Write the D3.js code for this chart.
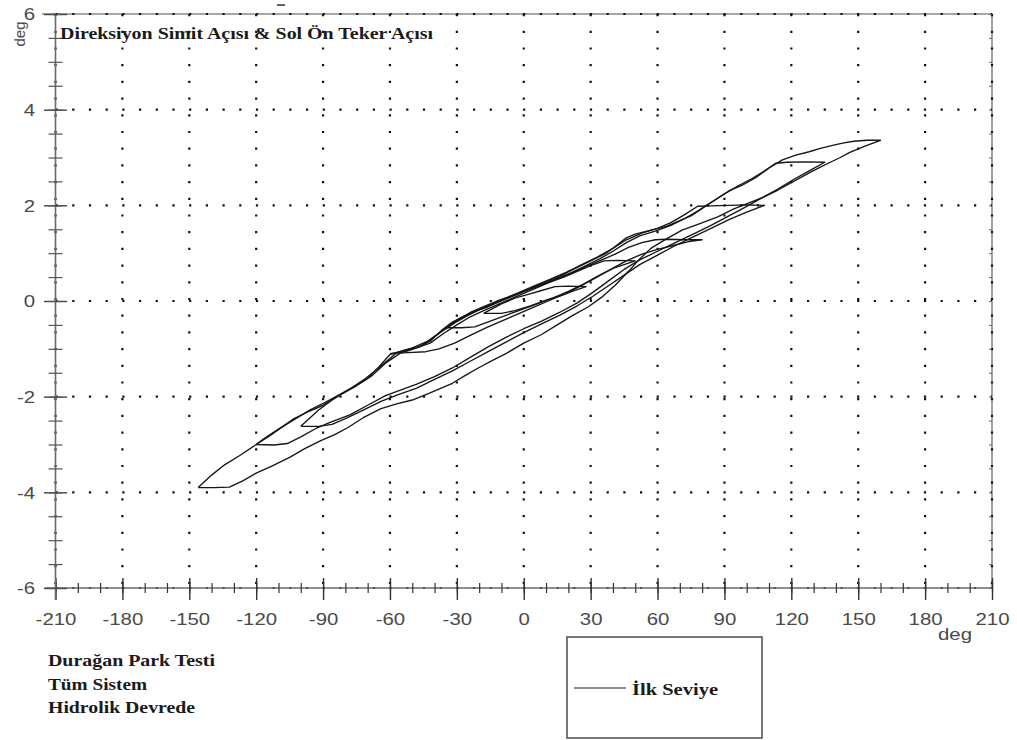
<!DOCTYPE html>
<html>
<head>
<meta charset="utf-8">
<script src="https://cdn.jsdelivr.net/npm/d3@7"></script>
<style>
  body { margin: 0; background: #fff; }
  svg { display: block; }
</style>
</head>
<body>
<svg id="chart" width="1017" height="740"></svg>
<script>
// Axis ticks
const xTicks = [-210, -180, -150, -120, -90, -60, -30, 0, 30, 60, 90, 120, 150, 180, 210];
const yTicks = [-6, -4, -2, 0, 2, 4, 6];
const xMinorTicks = d3.range(-210, 211, 10);
const yMinorTicks = d3.range(-6, 6.01, 0.5);

// Steering wheel angle (deg) vs. left front wheel angle (deg), one array per reversal loop
const loopA = [
  [-146,-3.90],[-139,-3.90],[-132,-3.89],[-126,-3.76],[-120,-3.60],[-113,-3.45],[-105,-3.27],[-98,-3.08],
  [-91,-2.92],[-85,-2.80],[-79,-2.65],[-72,-2.44],[-64,-2.25],[-57,-2.15],[-50,-2.07],[-42,-1.92],
  [-32,-1.72],[-26,-1.55],[-20,-1.39],[-14,-1.24],[-8,-1.10],[0,-0.88],[8,-0.70],[15,-0.50],
  [22,-0.30],[29,-0.12],[35,0.08],[41,0.33],[47,0.62],[52,0.88],[57,1.10],[64,1.30],[71,1.48],
  [79,1.62],[87,1.76],[94,1.92],[101,2.05],[108,2.18],[114,2.32],[121,2.50],[128,2.68],[133,2.80],
  [137,2.89],[142,3.00],[146,3.10],[153,3.24],[160,3.36],
  [154,3.36],[148,3.34],[143,3.30],[139,3.26],[133,3.19],[128,3.12],[122,3.05],[116,2.95],[110,2.78],
  [104,2.58],[98,2.42],[92,2.30],[88,2.18],[82,2.00],[75,1.78],[70,1.68],[64,1.56],[57,1.48],
  [50,1.40],[46,1.32],[41,1.14],[37,1.00],[30,0.84],[24,0.70],[18,0.56],[12,0.44],[6,0.32],[1,0.22],
  [-5,0.10],[-11,-0.02],[-16,-0.12],[-21,-0.20],[-27,-0.32],[-32,-0.44],[-37,-0.62],[-42,-0.84],
  [-47,-0.96],[-53,-1.02],[-60,-1.12],[-65,-1.38],[-70,-1.62],[-76,-1.80],[-83,-1.98],[-90,-2.18],
  [-96,-2.30],[-103,-2.46],[-108,-2.62],[-114,-2.82],[-120,-3.00],[-127,-3.22],[-134,-3.42],
  [-140,-3.64],[-146,-3.90]
];
const loopB = [
  [-120,-3.00],[-112,-3.01],[-106,-2.98],[-100,-2.84],[-93,-2.66],[-86,-2.52],[-78,-2.38],[-70,-2.18],
  [-62,-1.98],[-55,-1.86],[-48,-1.74],[-40,-1.58],[-32,-1.40],[-24,-1.18],[-16,-0.96],[-8,-0.76],
  [0,-0.58],[8,-0.42],[16,-0.24],[24,-0.04],[31,0.18],[38,0.42],[45,0.66],[52,0.86],[60,1.04],
  [68,1.22],[76,1.40],[84,1.58],[92,1.78],[100,1.98],[107,2.16],[114,2.34],[121,2.54],[128,2.72],
  [135,2.90],[126,2.91],[118,2.90],[113,2.88],
  [108,2.72],[102,2.55],[96,2.40],[90,2.24],[84,2.06],[78,1.88],[72,1.72],[66,1.58],[59,1.46],
  [52,1.36],[46,1.22],[40,1.04],[34,0.88],[27,0.72],[20,0.56],[13,0.42],[6,0.28],[0,0.16],[-6,0.04],
  [-12,-0.08],[-18,-0.20],[-24,-0.33],[-30,-0.50],[-36,-0.68],[-42,-0.88],[-48,-0.98],[-55,-1.08],
  [-62,-1.30],[-68,-1.56],[-75,-1.76],[-82,-1.94],[-89,-2.12],[-96,-2.28],[-103,-2.48],[-110,-2.68],
  [-116,-2.86],[-120,-3.00]
];
const loopC = [
  [-100,-2.62],[-92,-2.62],[-86,-2.58],[-80,-2.46],[-72,-2.28],[-64,-2.10],[-56,-1.95],[-48,-1.82],
  [-40,-1.64],[-32,-1.46],[-24,-1.26],[-16,-1.06],[-8,-0.86],[0,-0.66],[8,-0.48],[16,-0.30],
  [24,-0.10],[31,0.10],[38,0.32],[45,0.54],[52,0.76],[60,0.96],[68,1.16],[76,1.34],[84,1.52],
  [92,1.70],[100,1.86],[108,2.00],[100,2.01],[92,2.00],[84,1.99],[78,1.98],
  [72,1.80],[66,1.64],[60,1.52],[53,1.42],[46,1.28],[40,1.10],[33,0.92],[26,0.76],[19,0.60],
  [12,0.46],[5,0.32],[-1,0.20],[-7,0.08],[-13,-0.04],[-19,-0.16],[-25,-0.30],[-31,-0.46],
  [-37,-0.64],[-43,-0.84],[-50,-0.98],[-57,-1.08],[-64,-1.36],[-71,-1.62],[-78,-1.84],[-85,-2.04],
  [-92,-2.28],[-100,-2.62]
];
const loopD = [
  [-60,-1.10],[-52,-1.08],[-44,-1.06],[-38,-1.00],[-31,-0.88],[-24,-0.72],[-17,-0.56],[-10,-0.42],
  [-3,-0.28],[4,-0.14],[11,0.00],[18,0.14],[25,0.30],[32,0.48],[39,0.66],[46,0.84],[53,0.98],
  [60,1.08],[67,1.16],[74,1.24],[80,1.28],[72,1.28],[64,1.29],[59,1.28],
  [53,1.22],[47,1.12],[41,0.98],[35,0.86],[28,0.72],[21,0.58],[14,0.46],[8,0.34],[2,0.24],
  [-4,0.12],[-10,0.02],[-16,-0.10],[-22,-0.22],[-28,-0.36],[-34,-0.54],[-40,-0.74],[-46,-0.94],
  [-52,-1.04],[-60,-1.10]
];
const loopE = [
  [-35,-0.56],[-28,-0.56],[-22,-0.54],[-15,-0.42],[-8,-0.30],[-1,-0.18],[6,-0.06],[13,0.06],
  [20,0.20],[27,0.36],[34,0.54],[41,0.70],[50,0.84],[42,0.85],[36,0.84],
  [30,0.74],[24,0.62],[18,0.50],[12,0.40],[6,0.30],[0,0.20],[-6,0.10],[-12,0.00],[-18,-0.12],
  [-24,-0.24],[-30,-0.40],[-35,-0.56]
];
const loopF = [
  [-18,-0.26],[-10,-0.26],[-4,-0.20],[3,-0.10],[10,0.02],[17,0.12],[23,0.22],[28,0.30],
  [20,0.31],[14,0.30],[8,0.22],[2,0.14],[-4,0.06],[-10,-0.06],[-18,-0.26]
];
const loops = [loopA, loopB, loopC, loopD, loopE, loopF];

const titleText = "Direksiyon Simit Açısı & Sol Ön Teker Açısı";
const noteLines = ["Durağan Park Testi", "Tüm Sistem", "Hidrolik Devrede"];
const seriesName = "İlk Seviye";
const unitLabel = "deg";

const SANS = "'Liberation Sans', Arial, Helvetica, sans-serif";
const SERIF = "'Times New Roman', 'Liberation Serif', Times, 'DejaVu Serif', serif";

const svg = d3.select("#chart");
const plotLeft = 55.5, plotRight = 992, plotTop = 14, plotBottom = 588;
const x = d3.scaleLinear().domain([-210, 210]).range([plotLeft, plotRight]);
const y = d3.scaleLinear().domain([-6, 6]).range([plotBottom, plotTop]);
const fmt = d => String(d);

function sansLabel(sel, size) {
  sel.attr("font-family", SANS).attr("font-size", size).attr("fill", "#4a4a4a");
}
function serifLabel(sel, size) {
  sel.attr("font-family", SERIF).attr("font-size", size).attr("font-weight", "bold").attr("fill", "#1a1a1a");
}

// Frame (top and right)
svg.append("path")
  .attr("d", `M42,${plotTop}H${plotRight}V${plotBottom}`)
  .attr("fill", "none").attr("stroke", "#8a8a8a").attr("stroke-width", 1.6);

// Dotted grid
const grid = svg.append("g").attr("stroke", "#111").attr("stroke-width", 2.2).attr("stroke-dasharray", "2.2,14.5");
grid.selectAll("line.v").data(xTicks).join("line").attr("class", "v")
  .attr("x1", d => x(d)).attr("x2", d => x(d)).attr("y1", y(6)).attr("y2", y(-6));
grid.selectAll("line.h").data(yTicks).join("line").attr("class", "h")
  .attr("y1", d => y(d)).attr("y2", d => y(d)).attr("x1", x(-210)).attr("x2", x(210));

// X axis: labels and downward major ticks
const xAxis = svg.append("g").attr("transform", `translate(0,${plotBottom})`)
  .call(d3.axisBottom(x).tickValues(xTicks).tickSizeInner(12).tickSizeOuter(0).tickFormat(fmt));
xAxis.select(".domain").attr("stroke", "#6a6a6a").attr("stroke-width", 1.6).attr("d", `M45,0H${plotRight}`);
xAxis.selectAll(".tick line").attr("stroke", "#333").attr("stroke-width", 1.4);
xAxis.selectAll(".tick text").call(sansLabel, 17).attr("y", 37).attr("dy", 0)
  .attr("transform", "scale(1.2,1)");
// X axis: upward major ticks
svg.append("g").attr("transform", `translate(0,${plotBottom})`)
  .call(d3.axisBottom(x).tickValues(xTicks).tickSizeInner(-10).tickSizeOuter(0).tickFormat(""))
  .call(g => g.select(".domain").remove())
  .call(g => g.selectAll(".tick line").attr("stroke", "#333").attr("stroke-width", 1.4));
// X axis: minor ticks across the axis
[5, -5].forEach(s => {
  svg.append("g").attr("transform", `translate(0,${plotBottom})`)
    .call(d3.axisBottom(x).tickValues(xMinorTicks).tickSizeInner(s).tickSizeOuter(0).tickFormat(""))
    .call(g => g.select(".domain").remove())
    .call(g => g.selectAll(".tick line").attr("stroke", "#333").attr("stroke-width", 1.2));
});

// Y axis: labels and left major ticks
const yAxis = svg.append("g").attr("transform", `translate(${plotLeft},0)`)
  .call(d3.axisLeft(y).tickValues(yTicks).tickSizeInner(11.5).tickSizeOuter(0).tickFormat(fmt));
yAxis.select(".domain").attr("stroke", "#6a6a6a").attr("stroke-width", 1.6).attr("d", `M0,${plotTop}V${plotBottom + 12}`);
yAxis.selectAll(".tick line").attr("stroke", "#444").attr("stroke-width", 1.4);
yAxis.selectAll(".tick text").call(sansLabel, 17).attr("x", -20.5 / 1.2).attr("dy", "0.34em")
  .attr("transform", "scale(1.2,1)");
// Y axis: right half of major ticks
svg.append("g").attr("transform", `translate(${plotLeft},0)`)
  .call(d3.axisLeft(y).tickValues(yTicks).tickSizeInner(-11.5).tickSizeOuter(0).tickFormat(""))
  .call(g => g.select(".domain").remove())
  .call(g => g.selectAll(".tick line").attr("stroke", "#444").attr("stroke-width", 1.4));
// Y axis: minor ticks across the axis
[7, -7].forEach(s => {
  svg.append("g").attr("transform", `translate(${plotLeft},0)`)
    .call(d3.axisLeft(y).tickValues(yMinorTicks).tickSizeInner(s).tickSizeOuter(0).tickFormat(""))
    .call(g => g.select(".domain").remove())
    .call(g => g.selectAll(".tick line").attr("stroke", "#555").attr("stroke-width", 1.2));
});
// Right frame: small inward minor ticks
svg.append("g").attr("transform", `translate(${plotRight},0)`)
  .call(d3.axisLeft(y).tickValues(yMinorTicks).tickSizeInner(3).tickSizeOuter(0).tickFormat(""))
  .call(g => g.select(".domain").remove())
  .call(g => g.selectAll(".tick line").attr("stroke", "#666").attr("stroke-width", 1));

// Axis unit labels
svg.append("text").call(sansLabel, 15)
  .attr("transform", "translate(25,34) rotate(-90)")
  .attr("text-anchor", "middle").text(unitLabel);
svg.append("text").call(sansLabel, 17)
  .attr("transform", "translate(955,640) scale(1.2,1)")
  .attr("text-anchor", "middle").text(unitLabel);

// Loops
const line = d3.line().x(d => x(d[0])).y(d => y(d[1]));
svg.append("g").selectAll("path").data(loops).join("path")
  .attr("d", line).attr("fill", "none")
  .attr("stroke", "#161616").attr("stroke-width", 1.35).attr("stroke-linejoin", "round");

// Title
svg.append("text").call(serifLabel, 16).attr("x", 60).attr("y", 39)
  .attr("textLength", 373).attr("lengthAdjust", "spacingAndGlyphs")
  .text(titleText);
svg.append("line").attr("x1", 277).attr("x2", 285).attr("y1", 5).attr("y2", 5)
  .attr("stroke", "#333").attr("stroke-width", 1.5);

// Notes
const noteWidths = [167, 99, 147];
svg.append("g").selectAll("text").data(noteLines).join("text")
  .call(serifLabel, 16)
  .attr("x", 48).attr("y", (d, i) => 666 + i * 23.5)
  .attr("textLength", (d, i) => noteWidths[i]).attr("lengthAdjust", "spacingAndGlyphs")
  .text(d => d);

// Legend
const legend = svg.append("g");
legend.append("rect").attr("x", 567).attr("y", 637).attr("width", 195).attr("height", 101)
  .attr("fill", "none").attr("stroke", "#555").attr("stroke-width", 1.6);
legend.append("line").attr("x1", 574).attr("x2", 626).attr("y1", 688).attr("y2", 688)
  .attr("stroke", "#222").attr("stroke-width", 1.2);
legend.append("text").call(serifLabel, 16).attr("x", 632).attr("y", 695)
  .attr("textLength", 86).attr("lengthAdjust", "spacingAndGlyphs")
  .text(seriesName);
</script>
</body>
</html>
